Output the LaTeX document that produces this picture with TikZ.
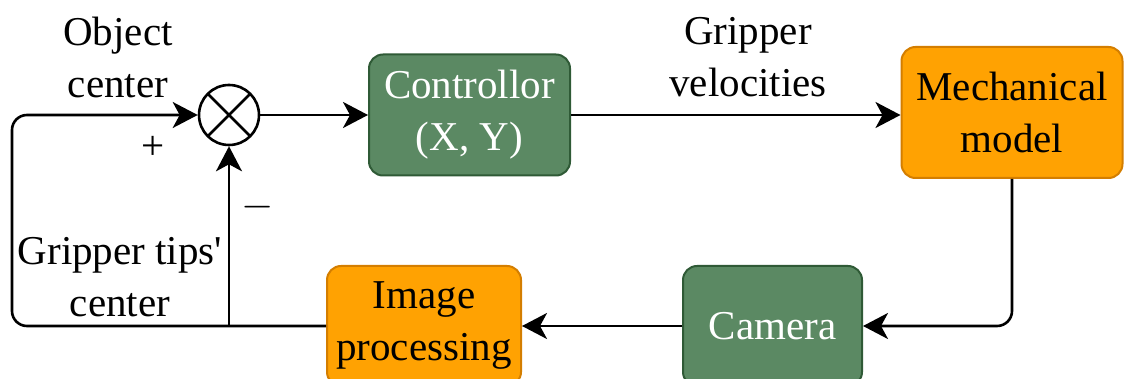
\documentclass[tikz,border=0pt]{standalone}
\usepackage{fontspec}
\setmainfont{Liberation Serif}
\usetikzlibrary{arrows.meta,positioning}
\definecolor{ctrlgreen}{HTML}{5B8963}
\definecolor{ctrlgreenline}{HTML}{2F5A36}
\definecolor{procorange}{HTML}{FFA202}
\definecolor{procorangeline}{HTML}{D47E00}

\begin{document}
\begin{tikzpicture}[x=0.5pt,y=-0.5pt,
    font=\fontsize{20.5}{26}\selectfont,
    greenblock/.style={draw=ctrlgreenline,fill=ctrlgreen,text=white,line width=1pt,
        rounded corners=7pt,align=center,inner sep=0pt},
    orangeblock/.style={draw=procorangeline,fill=procorange,line width=1pt,
        rounded corners=7pt,align=center,inner sep=0pt},
    conn/.style={line width=1.3pt,rounded corners=7.5pt},
    arr/.style={conn,-{Stealth[length=12.5pt,width=13pt,inset=3.5pt]}}]
    \useasboundingbox (0,0) rectangle (1124,379);
    % summing point
    \node[draw,circle,fill=white,line width=1.3pt,minimum size=30pt,inner sep=0pt,
        path picture={\draw[line width=1.3pt] (path picture bounding box.north west)--(path picture bounding box.south east)
            (path picture bounding box.north east)--(path picture bounding box.south west);}]
        (sum) at (229,115) {};
    % blocks
    \node[greenblock,minimum width=100.5pt,minimum height=60.5pt] (ctrl) at (469.5,115) {Controllor\\(X, Y)};
    \node[orangeblock,minimum width=110.5pt,minimum height=65.5pt] (mech) at (1012,112.5) {Mechanical\\model};
    \node[greenblock,minimum width=89.5pt,minimum height=60pt] (cam) at (772.5,326) {Camera};
    \node[orangeblock,minimum width=97pt,minimum height=60pt] (imgp) at (424,326) {Image\\processing};
    % labels
    \node[align=center] (objlbl) at (118,57) {Object\\center};
    \node[align=center] (vellbl) at (748,57) {Gripper\\velocities};
    \node[align=center] (fblbl) at (120,277) {Gripper tips\textquotesingle\\center};
    \node (plus) at (153,148) {+};
    \node (minus) at (258,207) {$-$};
    \coordinate (jn) at (229,326);
    \coordinate (fbl) at (12,326);
    \coordinate (fbt) at (12,115);
    % connectors
    \draw[arr] (sum.east)--(ctrl.west);
    \draw[arr] (ctrl.east)--(ctrl.east-|mech.west);
    \draw[arr] (mech.south)|-(cam.east);
    \draw[arr] (cam.west)--(imgp.east);
    \draw[arr] (imgp.west)--(jn)--(fbl)--(fbt)--(sum.west);
    \draw[arr] (jn)--(sum.south);
\end{tikzpicture}
\end{document}
